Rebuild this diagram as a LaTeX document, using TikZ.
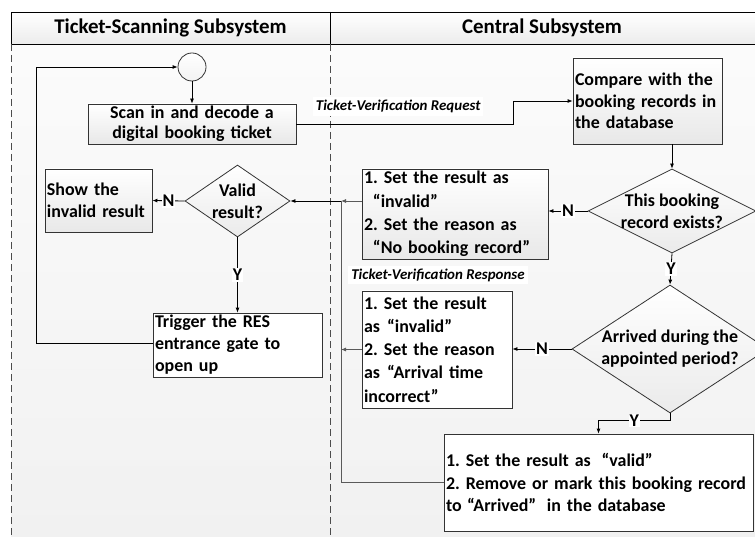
\documentclass[tikz,border=0pt]{standalone}
\usepackage{fontspec}
\setmainfont{Carlito}
\usetikzlibrary{arrows.meta,shapes.geometric,calc}
\definecolor{lineg}{HTML}{5A5A5A}
\tikzset{
  box/.style={draw=black!80, line width=0.8bp, top color=white, bottom color=black!9,
    inner sep=2bp, align=left, font=\fontsize{18}{22}\selectfont\bfseries},
  cbox/.style={box, align=center},
  dia/.style={diamond, draw=black!80, line width=0.8bp, top color=white, bottom color=black!8, inner sep=0pt},
  diatext/.style={align=center, inner sep=0pt, font=\fontsize{18}{22}\selectfont\bfseries},
  lbl/.style={fill=white, inner sep=1bp, font=\fontsize{18}{18}\selectfont\bfseries},
  msg/.style={fill=white, inner sep=3bp, font=\fontsize{15}{17}\selectfont\bfseries\itshape},
  hdr/.style={font=\fontsize{21}{24}\selectfont\bfseries, inner sep=0pt},
  conn/.style={draw=black, line width=0.8bp, -{Latex[length=5bp,width=4bp]}},
  gconn/.style={draw=lineg, line width=0.8bp, -{Latex[length=5bp,width=4bp]}},
  gline/.style={draw=lineg, line width=0.8bp},
  lane/.style={draw=black!70, line width=0.8bp, dash pattern=on 7bp off 4bp},
}
\begin{document}
\frenchspacing
\begin{tikzpicture}[x=1bp,y=-1bp]
\useasboundingbox (0,0) rectangle (755,537);
% background and lanes
\fill[top color=gray!3, bottom color=gray!11] (11,44) rectangle (760,540);
\draw[line width=0.8bp, top color=white, bottom color=gray!15] (11,12) rectangle (760,44);
\draw[line width=0.8bp] (330,12) -- (330,44);
\draw[lane] (11,44) -- (11,540);
\draw[lane] (330,44) -- (330,540);
\node[hdr] (hdrL) at (170.5,28) {Ticket-Scanning Subsystem};
\node[hdr] (hdrR) at (542,28) {Central Subsystem};

% left lane
\node[circle, draw=black!80, line width=0.8bp, top color=white, bottom color=gray!10, minimum size=28bp, inner sep=0pt] (start) at (192,67) {};
\node[cbox, minimum width=208bp, minimum height=40bp, text width=204bp, font=\fontsize{18}{20}\selectfont\bfseries] (scan) at (192,124) {Scan in and decode a\\digital booking ticket};
\node[dia, minimum width=105bp, minimum height=72bp] (valid) at (237.5,201) {};
\node[diatext] (validt) at (valid.center) {Valid\\result?};
\node[box, minimum width=107bp, minimum height=63bp, text width=103bp] (show) at (98.5,200.5) {Show the\\invalid result};
\node[box, top color=white, bottom color=white, minimum width=169bp, minimum height=64bp, text width=165bp] (trig) at (237.5,345) {Trigger the RES\\entrance gate to\\open up};

% right lane
\node[box, minimum width=149bp, minimum height=86bp, text width=145bp, font=\fontsize{18}{21.5}\selectfont\bfseries] (cmp) at (647.5,101) {Compare with the\\booking records in\\the database};
\node[dia, minimum width=168bp, minimum height=84bp] (exist) at (672,211) {};
\node[diatext] (existt) at (exist.center) {This booking\\record exists?};
\node[box, minimum width=186bp, minimum height=90bp, text width=182bp, font=\fontsize{18}{23.3}\selectfont\bfseries] (nob) at (455,214) {1. Set the result as\\\hspace{0.5em}“invalid”\\2. Set the reason as\\\hspace{0.5em}“No booking record”};
\node[dia, minimum width=196bp, minimum height=128bp] (arr) at (670,349) {};
\node[diatext] (arrt) at (arr.center) {Arrived during the\\appointed period?};
\node[box, top color=white, bottom color=white, minimum width=150bp, minimum height=117bp, text width=146bp, font=\fontsize{18}{23.3}\selectfont\bfseries] (late) at (437,349.5) {1. Set the result\\as\hspace{0.4em}“invalid”\\2. Set the reason\\as\hspace{0.4em}“Arrival time\\incorrect”};
\node[box, top color=white, bottom color=white, minimum width=309bp, minimum height=97bp, text width=305bp, font=\fontsize{18}{22.5}\selectfont\bfseries] (ok) at (598.5,482.5) {1. Set the result as\hspace{0.6em}“valid”\\2. Remove or mark this booking record\\to\hspace{0.3em}“Arrived”\hspace{0.6em}in the database};
\node[msg] (resp) at (438,275) {Ticket-Verification Response};

% connectors
\coordinate (rq) at (513,101);
\coordinate (bus) at (341,201);
\coordinate (loop) at (36,343);
\draw[conn] (start) -- (scan);
\draw[conn] (scan.east) -- node[msg, pos=0.47, above=8bp] (req) {Ticket-Verification Request} (scan.east -| rq) -- (rq) -- (cmp.west);
\draw[conn] (cmp.south -| exist.north) -- (exist.north);
\draw[conn] (exist.west) -- node[lbl] (n1) {N} (exist.west -| nob.east);
\draw[conn] (exist.south) -- node[lbl] (y1) {Y} (arr.north);
\draw[conn] (arr.west) -- node[lbl] (n2) {N} (arr.west -| late.east);
\draw[conn] (arr.south) -- ++(0,7) -| node[lbl, pos=0.25] (y2) {Y} (ok.north);
\draw[gconn] (valid.east -| nob.west) -- (valid.east -| bus) ;
\draw[gconn] (late.west) -- (late.west -| bus);
\draw[gline] (ok.west) -| (bus);
\draw[conn] (bus) -- (valid.east);
\draw[conn] (valid.west) -- node[lbl] (n3) {N} (show.east);
\draw[conn] (valid.south) -- node[lbl] (y3) {Y} (trig.north);
\draw[conn] (trig.west |- loop) -- (loop) |- (start.west);
\end{tikzpicture}
\end{document}
